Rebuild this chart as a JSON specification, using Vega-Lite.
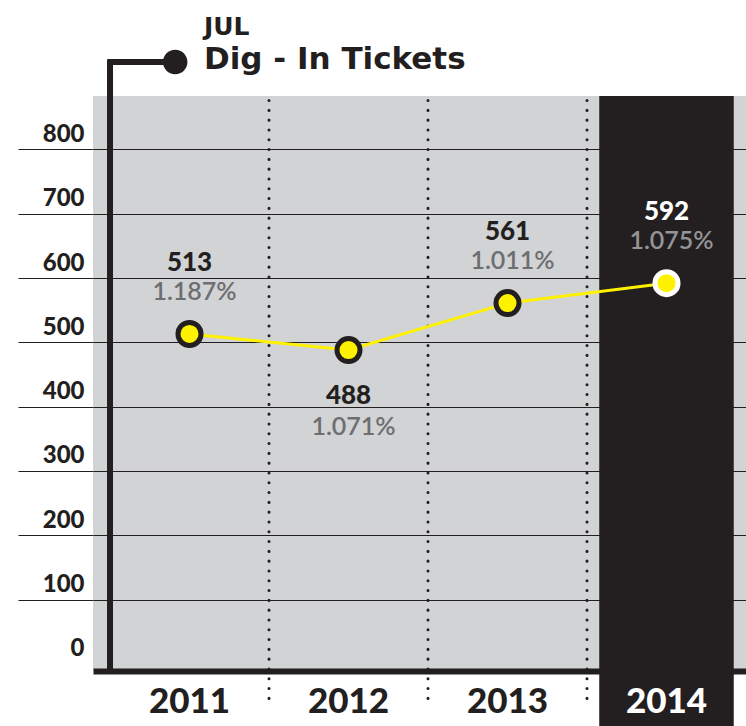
{
  "$schema": "https://vega.github.io/schema/vega-lite/v6.json",
  "autosize": {"type": "none"},
  "padding": {"left": 93, "top": 96, "right": 0, "bottom": 55},
  "width": 653,
  "height": 575,
  "background": "white",
  "view": {"fill": "#d1d3d4", "stroke": null},
  "title": {
    "text": "JUL",
    "subtitle": "Dig - In Tickets",
    "anchor": "start",
    "frame": "group",
    "dx": 111,
    "dy": 39,
    "offset": 14,
    "font": "DejaVu Sans",
    "fontSize": 25,
    "fontWeight": "bold",
    "color": "#231f20",
    "subtitleFont": "DejaVu Sans",
    "subtitleFontSize": 31,
    "subtitleFontWeight": "bold",
    "subtitleColor": "#231f20",
    "subtitlePadding": 5
  },
  "data": {
    "values": [
      {"year": "2011", "tickets": 513, "pct": "1.187%"},
      {"year": "2012", "tickets": 488, "pct": "1.071%"},
      {"year": "2013", "tickets": 561, "pct": "1.011%"},
      {"year": "2014", "tickets": 592, "pct": "1.075%"}
    ]
  },
  "encoding": {
    "x": {
      "field": "year",
      "type": "ordinal",
      "scale": {"type": "band", "paddingInner": 0, "paddingOuter": 0.0535, "align": 1},
      "axis": {
        "title": null,
        "labelAngle": 0,
        "domain": true,
        "domainColor": "#231f20",
        "domainWidth": 6,
        "ticks": false,
        "tickSize": 0,
        "grid": false,
        "labelFont": "Lato",
        "labelFontSize": 35,
        "labelFontWeight": 900,
        "labelBaseline": "alphabetic",
        "labelPadding": 41,
        "labelColor": {"condition": {"test": "datum.label == '2014'", "value": "#ffffff"}, "value": "#231f20"},
        "zindex": 1
      }
    }
  },
  "layer": [
    {
      "transform": [{"filter": "datum.year == '2014'"}],
      "mark": {"type": "bar", "color": "#231f20", "width": {"band": 0.846}},
      "encoding": {
        "y": {"datum": 883, "type": "quantitative"},
        "y2": {"datum": -100}
      }
    },
    {
      "transform": [{"filter": "datum.year != '2011'"}],
      "mark": {"type": "rule", "color": "#231f20", "strokeWidth": 3, "strokeCap": "round", "strokeDash": [0.1, 9.7]},
      "encoding": {
        "x": {"field": "year", "type": "ordinal", "bandPosition": 0},
        "y": {"datum": 876, "type": "quantitative"},
        "y2": {"datum": -62}
      }
    },
    {
      "transform": [{"filter": "datum.year == '2011'"}],
      "mark": {"type": "rule", "color": "#231f20", "strokeWidth": 6, "strokeCap": "square"},
      "encoding": {
        "x": {"field": "year", "type": "ordinal", "bandPosition": 0},
        "y": {"datum": 934, "type": "quantitative"},
        "y2": {"datum": -11}
      }
    },
    {
      "transform": [{"filter": "datum.year == '2011'"}],
      "mark": {
        "type": "point",
        "filled": true,
        "fill": "#231f20",
        "strokeWidth": 0,
        "opacity": 1,
        "size": 600,
        "shape": "M 1 0 A 1 1 0 1 1 -1 0 A 1 1 0 1 1 1 0 Z M 0 -0.245 L 0 0.245 L -5.55 0.245 L -5.55 -0.245 Z"
      },
      "encoding": {
        "x": {"field": "year", "type": "ordinal", "bandPosition": 0.41},
        "y": {"datum": 936, "type": "quantitative"}
      }
    },
    {
      "mark": {"type": "line", "color": "#fff200", "strokeWidth": 3},
      "encoding": {
        "y": {
          "field": "tickets",
          "type": "quantitative",
          "scale": {"domain": [-11, 883], "nice": false, "zero": false},
          "axis": {
            "title": null,
            "values": [0, 100, 200, 300, 400, 500, 600, 700, 800],
            "domain": false,
            "grid": true,
            "gridColor": {"condition": {"test": "datum.value == 0", "value": "transparent"}, "value": "#231f20"},
            "gridWidth": 1.2,
            "gridOpacity": 1,
            "ticks": true,
            "tickSize": 75,
            "tickWidth": 1.2,
            "tickColor": {"condition": {"test": "datum.value == 0", "value": "transparent"}, "value": "#231f20"},
            "labelPadding": -66,
            "labelAlign": "right",
            "labelBaseline": "alphabetic",
            "labelOffset": -8,
            "labelFont": "Lato",
            "labelFontSize": 24,
            "labelFontWeight": 900,
            "labelColor": "#231f20",
            "zindex": 0
          }
        }
      }
    },
    {
      "mark": {"type": "point", "filled": true, "fill": "#fff200", "strokeWidth": 5, "size": 531, "opacity": 1},
      "encoding": {
        "y": {"field": "tickets", "type": "quantitative"},
        "stroke": {"condition": {"test": "datum.year == '2014'", "value": "#ffffff"}, "value": "#231f20"}
      }
    },
    {
      "transform": [{"filter": "datum.year != '2012'"}],
      "mark": {"type": "text", "font": "Lato", "fontSize": 26, "fontWeight": 900, "baseline": "middle", "dy": -71},
      "encoding": {
        "y": {"field": "tickets", "type": "quantitative"},
        "text": {"field": "tickets", "type": "quantitative"},
        "color": {"condition": {"test": "datum.year == '2014'", "value": "#ffffff"}, "value": "#231f20"}
      }
    },
    {
      "transform": [{"filter": "datum.year != '2012'"}],
      "mark": {"type": "text", "font": "Lato", "fontSize": 25, "fontWeight": 600, "baseline": "middle", "dy": -42, "dx": 5},
      "encoding": {
        "y": {"field": "tickets", "type": "quantitative"},
        "text": {"field": "pct", "type": "nominal"},
        "color": {"condition": {"test": "datum.year == '2014'", "value": "#939598"}, "value": "#6d6e71"}
      }
    },
    {
      "transform": [{"filter": "datum.year == '2012'"}],
      "mark": {"type": "text", "font": "Lato", "fontSize": 26, "fontWeight": 900, "baseline": "middle", "dy": 46, "color": "#231f20"},
      "encoding": {
        "y": {"field": "tickets", "type": "quantitative"},
        "text": {"field": "tickets", "type": "quantitative"}
      }
    },
    {
      "transform": [{"filter": "datum.year == '2012'"}],
      "mark": {"type": "text", "font": "Lato", "fontSize": 25, "fontWeight": 600, "baseline": "middle", "dy": 77, "dx": 5, "color": "#6d6e71"},
      "encoding": {
        "y": {"field": "tickets", "type": "quantitative"},
        "text": {"field": "pct", "type": "nominal"}
      }
    }
  ]
}
